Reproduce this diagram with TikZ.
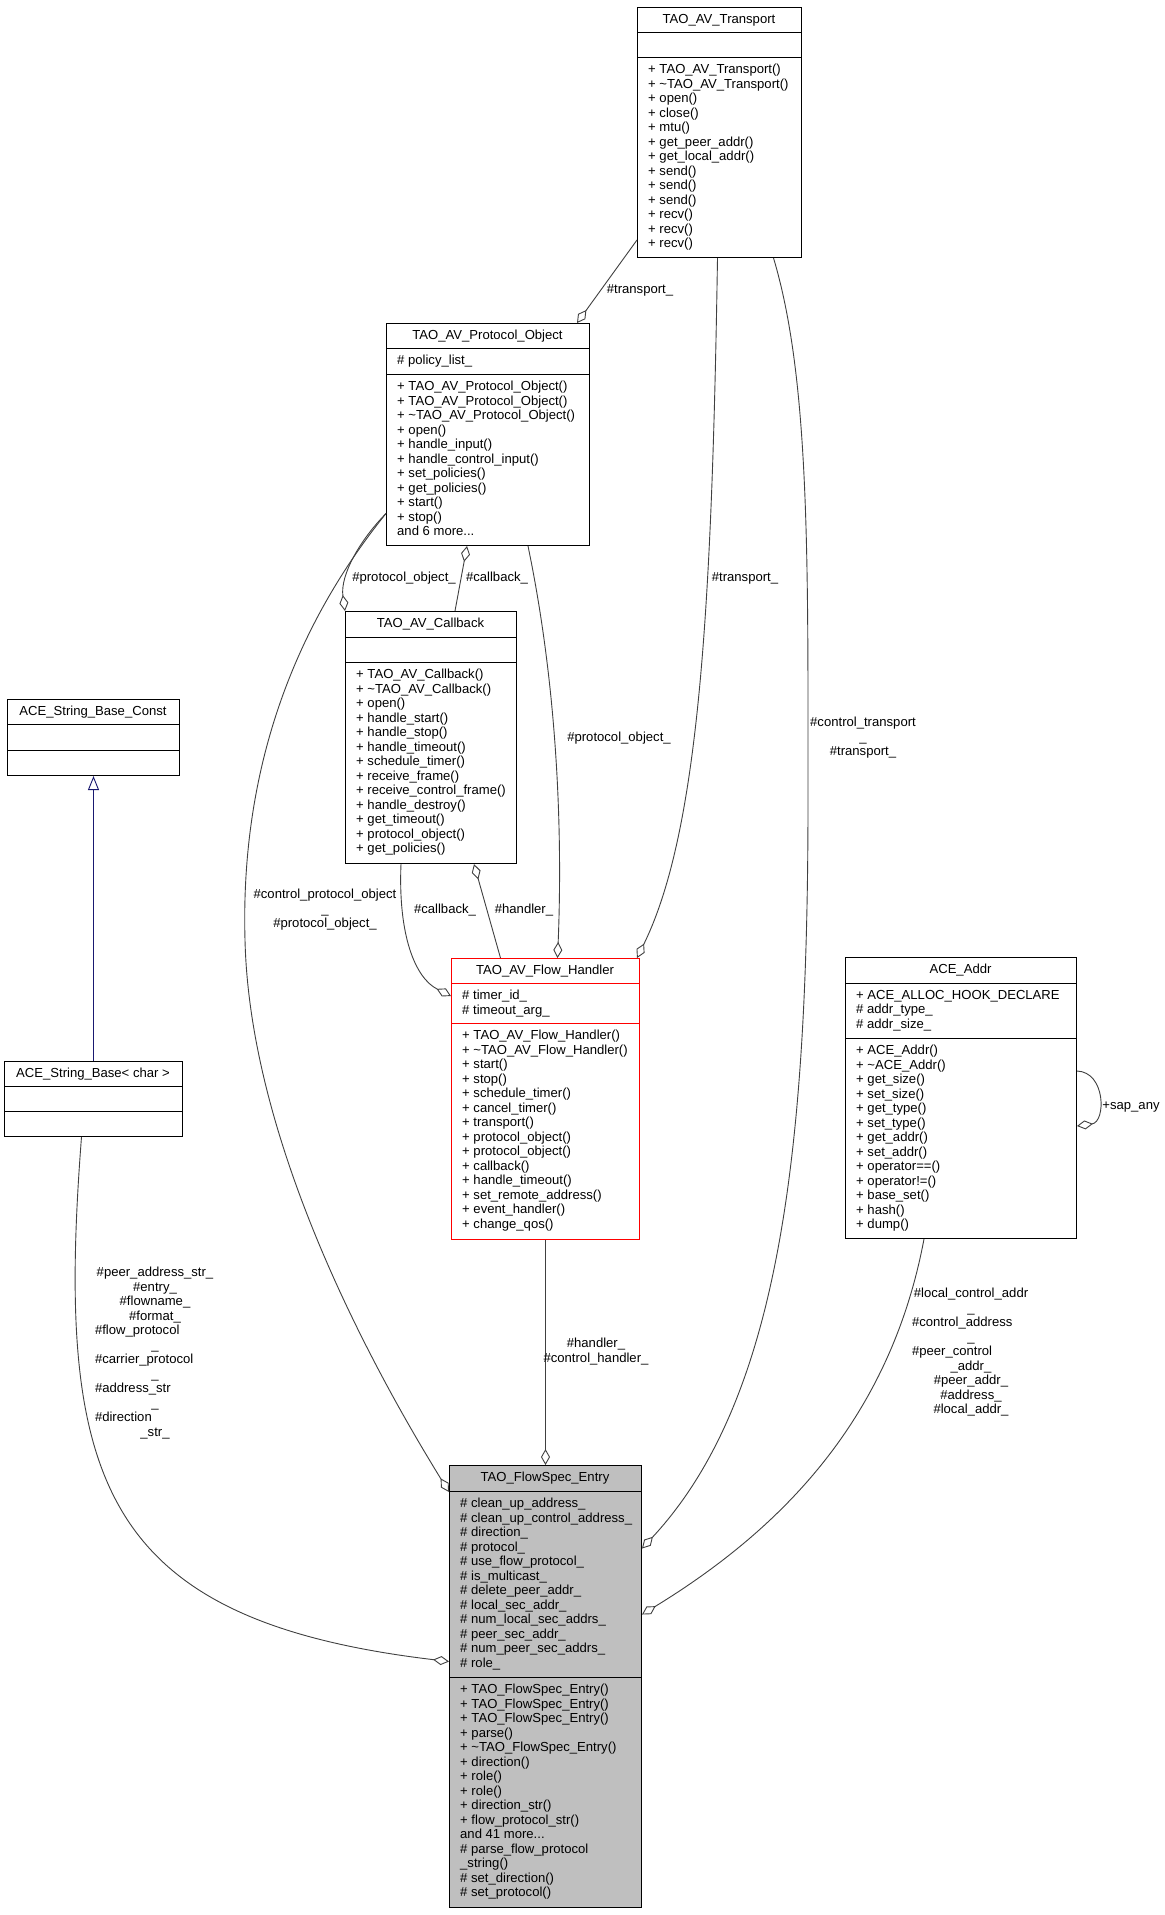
\documentclass[tikz,border=0pt]{standalone}
\usepackage{fontspec}
\setmainfont{Liberation Sans}
\usetikzlibrary{arrows.meta}

\definecolor{grey25}{HTML}{404040}
\definecolor{midnightblue}{HTML}{191970}
\definecolor{fsgray}{HTML}{BFBFBF}

\tikzset{
  classbox/.style={draw=black, line width=1pt, anchor=north west, inner sep=0pt},
  ttl/.style={anchor=base, inner sep=0pt},
  mbr/.style={anchor=north west, align=left, inner sep=0pt},
  lbl/.style={anchor=north, align=center, inner sep=0pt},
  uses/.style={draw=grey25, line width=0.9pt, -{Diamond[open,length=16pt,width=9pt]}},
  inherits/.style={draw=midnightblue, line width=0.9pt, -{Triangle[open,length=14pt,width=11pt]}}
}

\begin{document}
\begin{tikzpicture}[x=1pt,y=-1pt,font=\fontsize{13.1}{14.5}\selectfont]
\useasboundingbox[fill=white] (0,0) rectangle (1165,1915);

% TAO_AV_Transport
\node[classbox, minimum width=164pt, minimum height=250pt] (tr) at (637,7) {};
\node[ttl] (tr-t) at (719,23.5) {TAO\_AV\_Transport};
\draw[line width=1pt] (tr.west |- 0,32) -- (tr.east |- 0,32);
\draw[line width=1pt] (tr.west |- 0,57) -- (tr.east |- 0,57);
\node[mbr] (tr-m) at (648,64) {+ TAO\_AV\_Transport()\\+ \textasciitilde TAO\_AV\_Transport()\\+ open()\\+ close()\\+ mtu()\\+ get\_peer\_addr()\\+ get\_local\_addr()\\+ send()\\+ send()\\+ send()\\+ recv()\\+ recv()\\+ recv()};

% TAO_AV_Protocol_Object
\node[classbox, minimum width=203pt, minimum height=222pt] (po) at (386,323) {};
\node[ttl] (po-t) at (487.5,339.5) {TAO\_AV\_Protocol\_Object};
\draw[line width=1pt] (po.west |- 0,348) -- (po.east |- 0,348);
\draw[line width=1pt] (po.west |- 0,374) -- (po.east |- 0,374);
\node[mbr] (po-a) at (397,355) {\# policy\_list\_};
\node[mbr] (po-m) at (397,381) {+ TAO\_AV\_Protocol\_Object()\\+ TAO\_AV\_Protocol\_Object()\\+ \textasciitilde TAO\_AV\_Protocol\_Object()\\+ open()\\+ handle\_input()\\+ handle\_control\_input()\\+ set\_policies()\\+ get\_policies()\\+ start()\\+ stop()\\and 6 more...};

% TAO_AV_Callback
\node[classbox, minimum width=171pt, minimum height=252pt] (cb) at (345,611) {};
\node[ttl] (cb-t) at (430.5,627.5) {TAO\_AV\_Callback};
\draw[line width=1pt] (cb.west |- 0,637) -- (cb.east |- 0,637);
\draw[line width=1pt] (cb.west |- 0,662) -- (cb.east |- 0,662);
\node[mbr] (cb-m) at (356,669) {+ TAO\_AV\_Callback()\\+ \textasciitilde TAO\_AV\_Callback()\\+ open()\\+ handle\_start()\\+ handle\_stop()\\+ handle\_timeout()\\+ schedule\_timer()\\+ receive\_frame()\\+ receive\_control\_frame()\\+ handle\_destroy()\\+ get\_timeout()\\+ protocol\_object()\\+ get\_policies()};

% TAO_AV_Flow_Handler
\node[classbox, draw=red, minimum width=188pt, minimum height=281pt] (fh) at (451,958) {};
\node[ttl] (fh-t) at (545,974.5) {TAO\_AV\_Flow\_Handler};
\draw[red, line width=1pt] (fh.west |- 0,983) -- (fh.east |- 0,983);
\draw[red, line width=1pt] (fh.west |- 0,1023) -- (fh.east |- 0,1023);
\node[mbr] (fh-a) at (462,990) {\# timer\_id\_\\\# timeout\_arg\_};
\node[mbr] (fh-m) at (462,1030) {+ TAO\_AV\_Flow\_Handler()\\+ \textasciitilde TAO\_AV\_Flow\_Handler()\\+ start()\\+ stop()\\+ schedule\_timer()\\+ cancel\_timer()\\+ transport()\\+ protocol\_object()\\+ protocol\_object()\\+ callback()\\+ handle\_timeout()\\+ set\_remote\_address()\\+ event\_handler()\\+ change\_qos()};

% ACE_Addr
\node[classbox, minimum width=231pt, minimum height=281pt] (ad) at (845,957) {};
\node[ttl] (ad-t) at (960.5,973.5) {ACE\_Addr};
\draw[line width=1pt] (ad.west |- 0,983) -- (ad.east |- 0,983);
\draw[line width=1pt] (ad.west |- 0,1038) -- (ad.east |- 0,1038);
\node[mbr] (ad-a) at (856,990) {+ ACE\_ALLOC\_HOOK\_DECLARE\\\# addr\_type\_\\\# addr\_size\_};
\node[mbr] (ad-m) at (856,1045) {+ ACE\_Addr()\\+ \textasciitilde ACE\_Addr()\\+ get\_size()\\+ set\_size()\\+ get\_type()\\+ set\_type()\\+ get\_addr()\\+ set\_addr()\\+ operator==()\\+ operator!=()\\+ base\_set()\\+ hash()\\+ dump()};

% ACE_String_Base_Const
\node[classbox, minimum width=172pt, minimum height=76pt] (sbc) at (7,699) {};
\node[ttl] (sbc-t) at (93,715.5) {ACE\_String\_Base\_Const};
\draw[line width=1pt] (sbc.west |- 0,724) -- (sbc.east |- 0,724);
\draw[line width=1pt] (sbc.west |- 0,750) -- (sbc.east |- 0,750);

% ACE_String_Base< char >
\node[classbox, minimum width=178pt, minimum height=75pt] (sb) at (4,1061) {};
\node[ttl] (sb-t) at (93,1077.5) {ACE\_String\_Base< char >};
\draw[line width=1pt] (sb.west |- 0,1086) -- (sb.east |- 0,1086);
\draw[line width=1pt] (sb.west |- 0,1111) -- (sb.east |- 0,1111);

% TAO_FlowSpec_Entry
\node[classbox, fill=fsgray, minimum width=192pt, minimum height=442pt] (fs) at (449,1465) {};
\node[ttl] (fs-t) at (545,1481.5) {TAO\_FlowSpec\_Entry};
\draw[line width=1pt] (fs.west |- 0,1491) -- (fs.east |- 0,1491);
\draw[line width=1pt] (fs.west |- 0,1677) -- (fs.east |- 0,1677);
\node[mbr] (fs-a) at (460,1498) {\# clean\_up\_address\_\\\# clean\_up\_control\_address\_\\\# direction\_\\\# protocol\_\\\# use\_flow\_protocol\_\\\# is\_multicast\_\\\# delete\_peer\_addr\_\\\# local\_sec\_addr\_\\\# num\_local\_sec\_addrs\_\\\# peer\_sec\_addr\_\\\# num\_peer\_sec\_addrs\_\\\# role\_};
\node[mbr] (fs-m) at (460,1684) {+ TAO\_FlowSpec\_Entry()\\+ TAO\_FlowSpec\_Entry()\\+ TAO\_FlowSpec\_Entry()\\+ parse()\\+ \textasciitilde TAO\_FlowSpec\_Entry()\\+ direction()\\+ role()\\+ role()\\+ direction\_str()\\+ flow\_protocol\_str()\\and 41 more...\\\# parse\_flow\_protocol\\\_string()\\\# set\_direction()\\\# set\_protocol()};

% connectors
\draw[uses] ([yshift=18pt]tr.south west) -- ([xshift=-13pt]po.north east);
\draw[uses] ([xshift=-2pt]tr.south) .. controls (712,600) and (700,830) .. ([xshift=-3pt]fh.north east);
\draw[uses] ([xshift=54pt]tr.south) .. controls (810,380) and (808,560) .. (808,800) .. controls (808,1150) and (780,1400) .. ([yshift=138pt]fs.east);
\draw[uses] ([xshift=24pt]cb.north) -- ([xshift=-21pt]po.south);
\draw[uses] ([yshift=-79pt]po.west) .. controls (360,540) and (340,575) .. (cb.north west);
\draw[uses] ([xshift=40pt]po.south) .. controls (560,700) and (562,850) .. ([xshift=12pt]fh.north);
\draw[uses] ([xshift=-30pt]cb.south) .. controls (398,935) and (415,978) .. ([yshift=103pt]fh.west);
\draw[uses] ([xshift=-45pt]fh.north) -- ([xshift=43pt]cb.south);
\draw[uses] ([yshift=-79pt]po.west) .. controls (300,620) and (240,760) .. (245,940) .. controls (250,1150) and (380,1380) .. ([yshift=-27pt]fs.north west);
\draw[uses] (fh.south) -- (fs.north);
\draw[uses] ([xshift=-37pt]ad.south) .. controls (890,1420) and (780,1530) .. ([yshift=72pt]fs.east);
\draw[uses] ([yshift=27pt]ad.east) .. controls (1106,1072) and (1106,1122) .. ([yshift=-28pt]ad.east);
\draw[uses] ([xshift=-12pt]sb.south) .. controls (55,1480) and (100,1620) .. ([yshift=25pt]fs.west);
\draw[inherits] (sb.north) -- (sbc.south);

% edge labels
\node[lbl] (l-trpo) at (640,284) {\#transport\_};
\node[lbl] (l-trfh) at (745,572) {\#transport\_};
\node[lbl] (l-trfs) at (863,717) {\#control\_transport\\\_\\\#transport\_};
\node[lbl] (l-cbpo) at (497,572) {\#callback\_};
\node[lbl] (l-pocb) at (404,572) {\#protocol\_object\_};
\node[lbl] (l-pofh) at (619,732) {\#protocol\_object\_};
\node[lbl] (l-pofs) at (325,889) {\#control\_protocol\_object\\\_\\\#protocol\_object\_};
\node[lbl] (l-cbfh) at (445,904) {\#callback\_};
\node[lbl] (l-fhcb) at (524,904) {\#handler\_};
\node[lbl] (l-fhfs) at (596,1338) {\#handler\_\\\#control\_handler\_};
\node[lbl] (l-adad) at (1131,1102) {+sap\_any};
\node[lbl] (l-adfs) at (971,1288) {\#local\_control\_addr\\\_\\\makebox[118pt][l]{\#control\_address}\\\_\\\makebox[118pt][l]{\#peer\_control}\\\_addr\_\\\#peer\_addr\_\\\#address\_\\\#local\_addr\_};
\node[lbl] (l-sbfs) at (155,1267) {\#peer\_address\_str\_\\\#entry\_\\\#flowname\_\\\#format\_\\\makebox[120pt][l]{\#flow\_protocol}\\\_\\\makebox[120pt][l]{\#carrier\_protocol}\\\_\\\makebox[120pt][l]{\#address\_str}\\\_\\\makebox[120pt][l]{\#direction}\\\_str\_};
\end{tikzpicture}
\end{document}
